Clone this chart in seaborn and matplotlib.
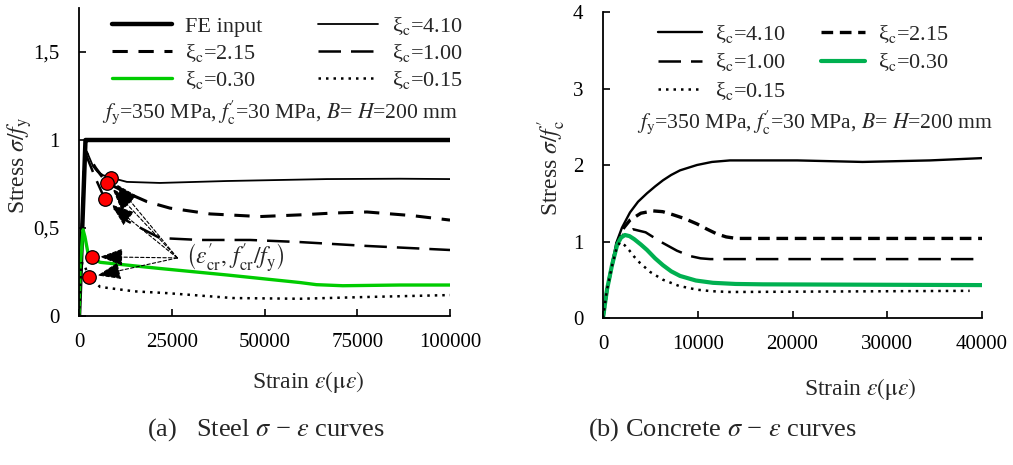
import matplotlib
matplotlib.use("Agg")
import matplotlib.pyplot as plt
import seaborn as sns
import numpy as np

# ---------------- data: steel (a) ----------------
steel_fe_x = [0, 1750, 2300, 100000]
steel_fe_y = [0, 1.0, 1.0, 1.0]

steel_410_x = [0, 1600, 2200, 3000, 3800, 5000, 6500, 8600, 12900, 21800, 39900, 66800, 86500, 100000]
steel_410_y = [0, 0.95, 0.93, 0.89, 0.85, 0.82, 0.80, 0.786, 0.762, 0.756, 0.767, 0.778, 0.780, 0.778]

steel_215_x = [0, 1600, 2200, 4500, 7500, 12900, 18300, 24500, 35300, 48800, 60000, 68500, 77600, 90000, 100000]
steel_215_y = [0, 0.94, 0.92, 0.84, 0.757, 0.70, 0.65, 0.613, 0.58, 0.565, 0.575, 0.585, 0.591, 0.57, 0.545]

steel_100_x = [0, 1600, 2200, 4500, 7000, 13000, 21800, 32600, 46100, 59600, 77600, 100000]
steel_100_y = [0, 0.93, 0.90, 0.78, 0.663, 0.54, 0.443, 0.432, 0.432, 0.42, 0.398, 0.375]

steel_030_x = [0, 300, 1100, 1600, 2400, 3400, 5700, 21800, 39900, 59600, 64000, 71100, 86500, 100000]
steel_030_y = [0, 0.28, 0.49, 0.45, 0.36, 0.33, 0.305, 0.27, 0.233, 0.19, 0.178, 0.172, 0.176, 0.176]

steel_015_x = [0, 600, 1200, 2800, 5700, 15000, 23700, 41500, 59600, 77600, 100000]
steel_015_y = [0, 0.30, 0.30, 0.22, 0.165, 0.14, 0.13, 0.102, 0.098, 0.108, 0.119]

# cracking points (eps'_cr, f'_cr/f_y)
crack_x = [8600, 7500, 7000, 3400, 2800]
crack_y = [0.786, 0.757, 0.663, 0.337, 0.22]

# ---------------- data: concrete (b) ----------------
conc_410_x = [0, 420, 950, 1400, 2000, 2850, 3700, 4640, 5500, 6330, 7200, 8130, 9920, 11500, 13400, 20500, 27400, 34500, 40000]
conc_410_y = [0, 0.37, 0.70, 0.98, 1.18, 1.38, 1.52, 1.63, 1.72, 1.80, 1.87, 1.93, 2.00, 2.04, 2.06, 2.06, 2.04, 2.06, 2.09]

conc_215_x = [0, 420, 950, 1500, 2200, 2850, 4000, 5280, 6300, 7390, 8600, 9920, 11000, 12000, 13000, 14100, 40000]
conc_215_y = [0, 0.37, 0.69, 0.98, 1.18, 1.28, 1.37, 1.40, 1.39, 1.35, 1.30, 1.23, 1.16, 1.10, 1.06, 1.04, 1.04]

conc_100_x = [0, 420, 950, 1500, 2200, 3170, 4500, 5400, 6330, 7800, 9180, 10300, 11300, 40000]
conc_100_y = [0, 0.37, 0.69, 0.98, 1.10, 1.16, 1.12, 1.05, 0.98, 0.88, 0.81, 0.78, 0.77, 0.77]

conc_030_x = [0, 420, 950, 1500, 1900, 2320, 2800, 3300, 4000, 4640, 5500, 6330, 7200, 8130, 9800, 11600, 14000, 16900, 40000]
conc_030_y = [0, 0.37, 0.69, 0.96, 1.05, 1.085, 1.07, 1.03, 0.96, 0.89, 0.78, 0.69, 0.61, 0.55, 0.49, 0.46, 0.445, 0.44, 0.43]

conc_015_x = [0, 420, 950, 1400, 1790, 2300, 2800, 3300, 3900, 5000, 6330, 8000, 9920, 11500, 13400, 38700]
conc_015_y = [0, 0.37, 0.68, 0.90, 0.99, 0.95, 0.88, 0.80, 0.72, 0.60, 0.50, 0.42, 0.37, 0.35, 0.34, 0.355]

steel_xticks = [0, 25000, 50000, 75000, 100000]
steel_yticks = [0, 0.5, 1.0, 1.5]
steel_yticklabels = ["0", "0,5", "1", "1,5"]
conc_xticks = [0, 10000, 20000, 30000, 40000]
conc_yticks = [0, 1, 2, 3, 4]

# ---------------- style ----------------
sns.set_theme(style="ticks")
plt.rcParams["font.family"] = ["Liberation Serif", "DejaVu Serif"]
plt.rcParams["mathtext.fontset"] = "stix"
plt.rcParams["axes.unicode_minus"] = True

FS = 15
FS_LEG = 16
FS_LAB = 17
GREEN_A = "#00CC00"
GREEN_B = "#00B050"

fig = plt.figure(figsize=(10.13, 4.65), dpi=100)
axA = fig.add_axes([79/1013, 1-316/465, (450-79)/1013, (316-8)/465])
axB = fig.add_axes([603/1013, 1-318/465, (982-603)/1013, (318-12)/465])

def lab(v):
    return r"ξ$_\mathrm{c}$=" + v

def draw(ax, x, y, label, color="black", lw=1.5, ls="-"):
    sns.lineplot(x=x, y=y, ax=ax, color=color, lw=lw, linestyle=ls,
                 label=label, estimator=None, sort=False)

# ---- panel (a)
draw(axA, steel_fe_x, steel_fe_y, "FE input", lw=3.2)
draw(axA, steel_410_x, steel_410_y, lab("4.10"), lw=1.3)
draw(axA, steel_215_x, steel_215_y, lab("2.15"), lw=2.2, ls=(0, (5, 3.5)))
draw(axA, steel_100_x, steel_100_y, lab("1.00"), lw=1.8, ls=(0, (9, 4)))
draw(axA, steel_030_x, steel_030_y, lab("0.30"), color=GREEN_A, lw=2.4)
draw(axA, steel_015_x, steel_015_y, lab("0.15"), lw=1.8, ls=(0, (1, 2)))

tail = (26500, 0.33)
for mx, my in zip(crack_x, crack_y):
    axA.annotate("", xy=(mx, my), xytext=tail,
                 arrowprops=dict(arrowstyle="-|>,head_length=0.8,head_width=0.3",
                                 linestyle=(0, (3, 2)), lw=0.8, color="black",
                                 shrinkA=0, shrinkB=6, mutation_scale=18))
sns.scatterplot(x=crack_x, y=crack_y, ax=axA, color="#FF0000", edgecolor="black",
                linewidth=0.9, s=95, zorder=5, legend=False)
axA.text(28800, 0.325, r"$\left(\varepsilon_{\mathrm{cr}}',\, f_{\mathrm{cr}}'/f_{\mathrm{y}}\right)$",
         fontsize=17, ha="left", va="center")

axA.text(0.062, 0.662, r"$f_\mathrm{y}$=350 MPa, $f_\mathrm{c}'$=30 MPa, $B$= $H$=200 mm",
         transform=axA.transAxes, fontsize=15.6, ha="left", va="center")

axA.set_xlim(0, 100000)
axA.set_ylim(0, 1.75)
axA.set_xticks(steel_xticks)
axA.set_xticklabels([str(v) for v in steel_xticks])
axA.set_yticks(steel_yticks)
axA.set_yticklabels(steel_yticklabels)
axA.set_ylabel(r"Stress $\sigma/f_\mathrm{y}$", fontsize=FS_LAB)
axA.set_xlabel(r"Strain $\varepsilon(\mathrm{\mu}\varepsilon)$", fontsize=FS_LAB)
axA.yaxis.set_label_coords(-0.121, 0.49)
axA.xaxis.set_label_coords(0.617, -0.172)

h, l = axA.get_legend_handles_labels()
order = ["FE input", lab("2.15"), lab("0.30"), lab("4.10"), lab("1.00"), lab("0.15")]
hd = dict(zip(l, h))
axA.legend([hd[k] for k in order], order, ncol=2, frameon=False, fontsize=FS_LEG,
           loc="upper left", bbox_to_anchor=(0.089, 0.978), borderpad=0,
           borderaxespad=0, handlelength=2.7, handletextpad=0.6,
           columnspacing=2.5, labelspacing=0.22)

# ---- panel (b)
draw(axB, conc_410_x, conc_410_y, lab("4.10"), lw=1.7)
draw(axB, conc_215_x, conc_215_y, lab("2.15"), lw=2.4, ls=(0, (3.5, 2)))
draw(axB, conc_100_x, conc_100_y, lab("1.00"), lw=1.8, ls=(0, (9, 4)))
draw(axB, conc_030_x, conc_030_y, lab("0.30"), color=GREEN_B, lw=3.0)
draw(axB, conc_015_x, conc_015_y, lab("0.15"), lw=1.8, ls=(0, (1, 2)))

axB.text(0.09, 0.64, r"$f_\mathrm{y}$=350 MPa, $f_\mathrm{c}'$=30 MPa, $B$= $H$=200 mm",
         transform=axB.transAxes, fontsize=15.6, ha="left", va="center")

axB.set_xlim(0, 40000)
axB.set_ylim(0, 4)
axB.set_xticks(conc_xticks)
axB.set_xticklabels([str(v) for v in conc_xticks])
axB.set_yticks(conc_yticks)
axB.set_yticklabels([str(v) for v in conc_yticks])
axB.set_ylabel(r"Stress $\sigma/f_\mathrm{c}'$", fontsize=FS_LAB)
axB.set_xlabel(r"Strain $\varepsilon(\mathrm{\mu}\varepsilon)$", fontsize=FS_LAB)
axB.yaxis.set_label_coords(-0.092, 0.49)
axB.xaxis.set_label_coords(0.678, -0.19)

h, l = axB.get_legend_handles_labels()
order = [lab("4.10"), lab("1.00"), lab("0.15"), lab("2.15"), lab("0.30")]
hd = dict(zip(l, h))
axB.legend([hd[k] for k in order], order, ncol=2, frameon=False, fontsize=FS_LEG,
           loc="upper left", bbox_to_anchor=(0.145, 0.965), borderpad=0,
           borderaxespad=0, handlelength=2.0, handletextpad=0.55,
           columnspacing=1.6, labelspacing=0.3)

for ax in (axA, axB):
    sns.despine(ax=ax)
    for s in ("left", "bottom"):
        ax.spines[s].set_color("black")
        ax.spines[s].set_linewidth(1.3)
    ax.tick_params(axis="both", direction="in", length=5, width=1.2, color="black",
                   labelsize=FS, labelcolor="black")
    ax.tick_params(axis="x", pad=12)
    ax.tick_params(axis="y", pad=14)
    ax.set_facecolor("white")

fig.text(266/1013, 1-430/465, r"(a)   Steel $\sigma$ − $\varepsilon$ curves", fontsize=19,
         ha="center", va="center")
fig.text(722/1013, 1-430/465, r"(b) Concrete $\sigma$ − $\varepsilon$ curves", fontsize=19,
         ha="center", va="center")

fig.savefig("out.png", dpi=100, facecolor="white")
